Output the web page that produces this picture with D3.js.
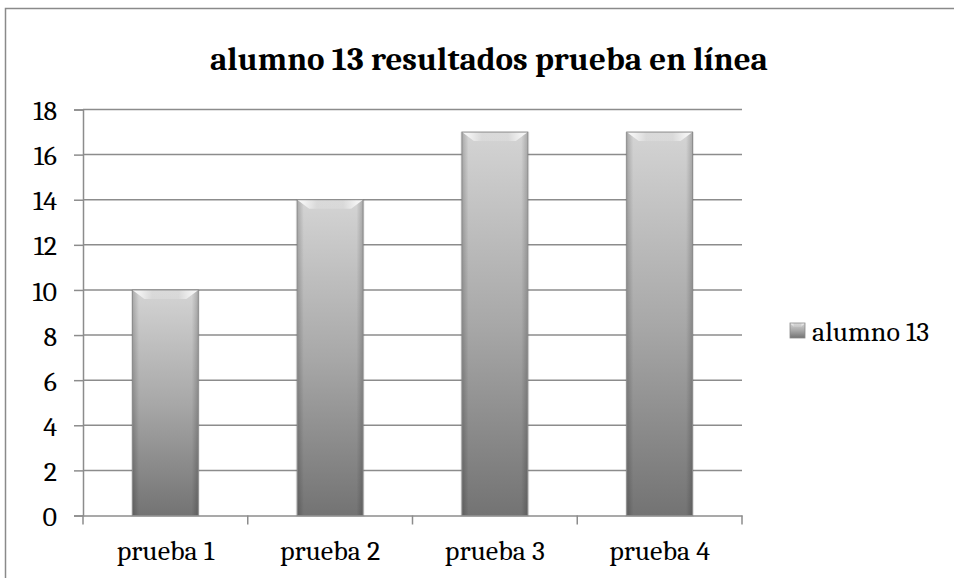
<!DOCTYPE html>
<html>
<head>
<meta charset="utf-8">
<script src="https://cdn.jsdelivr.net/npm/d3@7"></script>
<style>
  body { margin: 0; background: #fff; }
</style>
</head>
<body>
<div id="chart"></div>
<script>
const categories = ["prueba 1", "prueba 2", "prueba 3", "prueba 4"];
const values = [10, 14, 17, 17];
const seriesName = "alumno 13";
const yTicks = [0, 2, 4, 6, 8, 10, 12, 14, 16, 18];
const titleText = "alumno 13 resultados prueba en línea";

const FONT = '"Caladea", "Liberation Serif", serif';
const svgWidth = 954;
const svgHeight = 578;
const margin = { top: 109.5, right: 212, bottom: 62.5, left: 83 };
const width = svgWidth - margin.left - margin.right;
const height = svgHeight - margin.top - margin.bottom;

const svg = d3.select("#chart").append("svg")
    .attr("width", svgWidth)
    .attr("height", svgHeight)
    .style("display", "block");

const defs = svg.append("defs");

// vertical body gradient of the bars
const bodyGrad = defs.append("linearGradient")
    .attr("id", "barBody")
    .attr("x1", 0).attr("y1", 0).attr("x2", 0).attr("y2", 1);
bodyGrad.append("stop").attr("offset", "0%").attr("stop-color", "#d4d4d4");
bodyGrad.append("stop").attr("offset", "50%").attr("stop-color", "#a8a8a8");
bodyGrad.append("stop").attr("offset", "100%").attr("stop-color", "#737373");

// darker side edges
const sideGrad = defs.append("linearGradient")
    .attr("id", "barSide")
    .attr("x1", 0).attr("y1", 0).attr("x2", 1).attr("y2", 0);
sideGrad.append("stop").attr("offset", "0%").attr("stop-color", "#000").attr("stop-opacity", 0.2);
sideGrad.append("stop").attr("offset", "10%").attr("stop-color", "#000").attr("stop-opacity", 0);
sideGrad.append("stop").attr("offset", "90%").attr("stop-color", "#000").attr("stop-opacity", 0);
sideGrad.append("stop").attr("offset", "100%").attr("stop-color", "#000").attr("stop-opacity", 0.2);

// top bevel face: white at the corners, fading toward the middle
const topGrad = defs.append("linearGradient")
    .attr("id", "barTop")
    .attr("x1", 0).attr("y1", 0).attr("x2", 1).attr("y2", 0);
topGrad.append("stop").attr("offset", "0%").attr("stop-color", "#fff").attr("stop-opacity", 1);
topGrad.append("stop").attr("offset", "30%").attr("stop-color", "#fff").attr("stop-opacity", 0.15);
topGrad.append("stop").attr("offset", "70%").attr("stop-color", "#fff").attr("stop-opacity", 0.15);
topGrad.append("stop").attr("offset", "100%").attr("stop-color", "#fff").attr("stop-opacity", 1);

// outer frame (cropped chart area border)
svg.append("path")
    .attr("d", `M5.5,${svgHeight} V8.5 H${svgWidth}`)
    .attr("fill", "none")
    .attr("stroke", "#8a8a8a")
    .attr("stroke-width", 1.5);

svg.append("text")
    .attr("x", 489)
    .attr("y", 70)
    .attr("text-anchor", "middle")
    .style("font-family", FONT)
    .style("font-size", "33px")
    .style("font-weight", "bold")
    .attr("fill", "#000")
    .text(titleText);

const g = svg.append("g")
    .attr("transform", `translate(${margin.left}, ${margin.top})`);

const x = d3.scaleBand()
    .domain(categories)
    .range([0, width])
    .paddingInner(0.6)
    .paddingOuter(0.3);

const y = d3.scaleLinear()
    .domain([0, 18])
    .range([height, 0]);

// gridlines
g.append("g")
    .selectAll("line")
    .data(yTicks.filter(d => d > 0))
    .enter().append("line")
    .attr("x1", 0)
    .attr("x2", width)
    .attr("y1", d => y(d))
    .attr("y2", d => y(d))
    .attr("stroke", "#8c8c8c")
    .attr("stroke-width", 1.5);

// bars
const bars = g.append("g")
    .selectAll("g")
    .data(categories.map((c, i) => ({ cat: c, val: values[i] })))
    .enter().append("g")
    .attr("transform", d => `translate(${x(d.cat)}, ${y(d.val)})`);

bars.append("rect")
    .attr("x", -1.5)
    .attr("y", 0)
    .attr("width", x.bandwidth() + 3)
    .attr("height", d => height - y(d.val) + 1.5)
    .attr("fill", "#000")
    .attr("opacity", 0.08);

bars.append("rect")
    .attr("width", x.bandwidth())
    .attr("height", d => height - y(d.val))
    .attr("fill", "url(#barBody)");

bars.append("rect")
    .attr("width", x.bandwidth())
    .attr("height", d => height - y(d.val))
    .attr("fill", "url(#barSide)");

// top bevel highlight
const bev = 12;
bars.append("path")
    .attr("d", () => {
        const w = x.bandwidth();
        return `M0,0 H${w} L${w - bev},${bev * 0.75} H${bev} Z`;
    })
    .attr("fill", "url(#barTop)");

bars.append("rect")
    .attr("width", x.bandwidth())
    .attr("height", d => height - y(d.val))
    .attr("fill", "none")
    .attr("stroke", "#8a8a8a")
    .attr("stroke-width", 1);

// y axis
const yAxis = g.append("g")
    .call(d3.axisLeft(y).tickValues(yTicks).tickSize(9));
yAxis.select(".domain").attr("stroke", "#8c8c8c").attr("stroke-width", 1.5);
yAxis.selectAll(".tick line").attr("stroke", "#8c8c8c").attr("stroke-width", 1.5);
yAxis.selectAll(".tick text")
    .attr("x", -26)
    .attr("dy", "0.36em")
    .style("font-size", "28px")
    .style("font-family", FONT)
    .attr("fill", "#000");

// x axis
const xAxis = g.append("g")
    .attr("transform", `translate(0, ${height})`)
    .call(d3.axisBottom(x).tickSize(0));
xAxis.select(".domain").attr("stroke", "#8c8c8c").attr("stroke-width", 1.5);
xAxis.selectAll(".tick text")
    .attr("y", 44)
    .attr("dy", 0)
    .style("font-size", "28px")
    .style("font-family", FONT)
    .attr("fill", "#000");

// category separators
xAxis.append("g")
    .selectAll("line")
    .data(d3.range(categories.length + 1))
    .enter().append("line")
    .attr("x1", i => i * x.step())
    .attr("x2", i => i * x.step())
    .attr("y1", 0)
    .attr("y2", 9)
    .attr("stroke", "#8c8c8c")
    .attr("stroke-width", 1.5);

// legend
const legend = svg.append("g")
    .attr("transform", "translate(790, 323)");
legend.append("rect")
    .attr("width", 15).attr("height", 15)
    .attr("fill", "url(#barBody)");
legend.append("path")
    .attr("d", "M0,0 H15 L11,4 H4 Z")
    .attr("fill", "url(#barTop)");
legend.append("rect")
    .attr("width", 15).attr("height", 15)
    .attr("fill", "none")
    .attr("stroke", "#8a8a8a")
    .attr("stroke-width", 0.8);
legend.append("text")
    .attr("x", 22)
    .attr("y", 18)
    .style("font-size", "28px")
    .style("font-family", FONT)
    .attr("fill", "#000")
    .text(seriesName);
</script>
</body>
</html>
